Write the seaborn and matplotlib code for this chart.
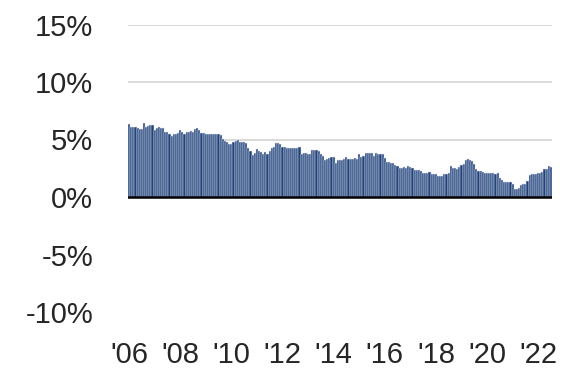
import numpy as np
import pandas as pd
import matplotlib
matplotlib.use("Agg")
import matplotlib.pyplot as plt
import seaborn as sns

# monthly values in %, Jan 2006 - Jul 2022
y2006 = [6.36, 6.13, 6.10, 6.07, 5.98, 5.95, 5.90, 6.45, 6.07, 6.19, 6.30, 6.30]
y2007 = [5.84, 5.98, 6.10, 5.98, 5.98, 5.69, 5.69, 5.46, 5.32, 5.49, 5.52, 5.55]
y2008 = [5.84, 5.66, 5.49, 5.66, 5.66, 5.75, 5.69, 5.92, 6.04, 5.84, 5.60, 5.55]
y2009 = [5.49, 5.49, 5.49, 5.46, 5.49, 5.49, 5.49, 5.40, 5.06, 4.91, 4.74, 4.65]
y2010 = [4.60, 4.80, 4.90, 4.97, 4.80, 4.80, 4.77, 4.68, 4.25, 3.96, 3.67, 3.84]
y2011 = [4.16, 4.00, 3.90, 3.76, 3.90, 3.76, 3.96, 4.25, 4.39, 4.68, 4.68, 4.57]
y2012 = [4.39, 4.34, 4.28, 4.28, 4.25, 4.25, 4.25, 4.25, 4.34, 3.76, 3.82, 3.82]
y2013 = [3.76, 3.76, 4.10, 4.05, 4.05, 4.00, 3.76, 3.60, 3.24, 3.30, 3.38, 3.47]
y2014 = [3.47, 2.95, 3.18, 3.18, 3.24, 3.32, 3.47, 3.27, 3.27, 3.27, 3.35, 3.27]
y2015 = [3.70, 3.47, 3.60, 3.82, 3.82, 3.82, 3.84, 3.60, 3.82, 3.70, 3.70, 3.70]
y2016 = [3.38, 3.03, 3.03, 3.00, 3.00, 2.80, 2.66, 2.51, 2.51, 2.60, 2.51, 2.69]
y2017 = [2.60, 2.54, 2.37, 2.31, 2.31, 2.25, 2.11, 2.11, 2.11, 2.17, 1.99, 1.99]
y2018 = [1.99, 1.79, 1.79, 1.79, 2.02, 1.99, 2.11, 2.66, 2.55, 2.51, 2.46, 2.60]
y2019 = [2.75, 2.83, 3.24, 3.27, 3.18, 3.09, 2.83, 2.40, 2.25, 2.22, 2.17, 2.08]
y2020 = [2.11, 2.08, 2.11, 2.08, 2.02, 2.11, 1.68, 1.45, 1.27, 1.27, 1.33, 1.27]
y2021 = [1.16, 0.72, 0.72, 0.81, 1.01, 1.16, 1.10, 1.36, 1.88, 1.97, 2.02, 1.99]
y2022 = [2.11, 2.11, 2.14, 2.46, 2.46, 2.66, 2.60]

values = (y2006 + y2007 + y2008 + y2009 + y2010 + y2011 + y2012 + y2013 + y2014
          + y2015 + y2016 + y2017 + y2018 + y2019 + y2020 + y2021 + y2022)
months = pd.date_range("2006-01-01", periods=len(values), freq="MS")
tick_years = [2006, 2008, 2010, 2012, 2014, 2016, 2018, 2020, 2022]
y_ticks = [-10, -5, 0, 5, 10, 15]

df = pd.DataFrame({"month": months.strftime("%Y-%m"), "value": values})

sns.set_style("white")
plt.rcParams["font.family"] = ["Liberation Sans", "DejaVu Sans"]

fig = plt.figure(figsize=(5.85, 3.74), dpi=100)
ax = fig.add_axes([128 / 585, 1 - 312 / 374, 424 / 585, (312 - 24.5) / 374])

# light gridlines only above zero, like the original
for g in [5, 10, 15]:
    ax.axhline(g, color="#d9d9d9", lw=1.4, zorder=0)

sns.barplot(data=df, x="month", y="value", color="#22427a", width=1.0,
            edgecolor="#dfe5ef", linewidth=0.35, saturation=1, ax=ax, zorder=2)

ax.axhline(0, color="black", lw=1.8, zorder=3)

ax.set_ylim(-10, 15)
ax.set_xlim(-0.5, len(values) - 0.5)
ax.set_yticks(y_ticks)
ax.set_yticklabels([f"{t}%" for t in y_ticks])
pos = [list(months.year).index(y) for y in tick_years]
ax.set_xticks(pos)
ax.set_xticklabels([f"'{str(y)[2:]}" for y in tick_years])
ax.tick_params(axis="y", length=0, pad=25, labelsize=21)
ax.tick_params(axis="x", length=0, pad=21, labelsize=21)
ax.set_xlabel("")
ax.set_ylabel("")
sns.despine(ax=ax, left=True, bottom=True)

fig.savefig("out.png", dpi=100)
